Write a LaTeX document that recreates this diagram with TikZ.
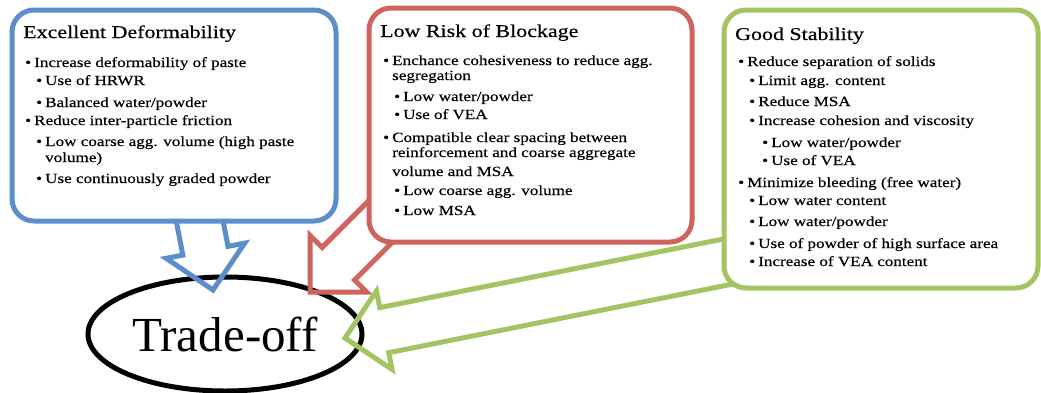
\documentclass[tikz,border=0pt]{standalone}
\usepackage{fontspec}
\setmainfont{Liberation Serif}
\newfontfamily\bodyfont[FakeStretch=1.22,FakeBold=0.4]{Liberation Serif}
\usetikzlibrary{calc,shapes.geometric}
\definecolor{cblue}{RGB}{92,143,202}
\definecolor{cred}{RGB}{207,100,94}
\definecolor{cgreen}{RGB}{163,196,96}
\tikzset{
  panel/.style={draw=#1, line width=5pt, fill=white, rounded corners=22pt, inner sep=0pt},
  txt/.style={anchor=base west, inner sep=0pt, font=\bodyfont\fontsize{14}{16}\selectfont},
  ttl/.style={anchor=base west, inner sep=0pt, font=\bodyfont\fontsize{18}{21}\selectfont},
  bul/.style={anchor=base west, inner sep=0pt, font=\bodyfont\fontsize{14}{16}\selectfont},
  fat/.style={draw=#1, line width=5pt, line join=miter, miter limit=10},
  oval/.style={draw, line width=5pt, fill=white, ellipse, inner sep=0pt, minimum width=274pt, minimum height=114pt, font=\fontsize{49}{55}\selectfont},
}
\newcommand{\fatarrow}[4]{%
  \coordinate (#1-n) at ($(#4)!40pt!(#3)$);
  \draw[fat=#2] ($(#3)!23pt!90:(#4)$) -- ($(#1-n)!23pt!90:(#4)$) -- ($(#1-n)!40pt!90:(#4)$) -- (#4)
    -- ($(#1-n)!40pt!-90:(#4)$) -- ($(#1-n)!23pt!-90:(#4)$) -- ($(#3)!23pt!-90:(#4)$);
}
\newcommand{\itm}[5]{\node[bul] (#1b) at (#2,#4) {\textbullet}; \node[txt] (#1) at (#3,#4) {#5};}
\begin{document}
\begin{tikzpicture}[x=1pt,y=-1pt]
\useasboundingbox (0,0) rectangle (1041,392);
% central ellipse
\node[oval] (trade) at (225,334) {Trade-off};
% arrows
\coordinate (bs) at (196,202);
\coordinate (bt) at (213,290);
\coordinate (rs) at (401.9,200.1);
\coordinate (rt) at (310,292);
\coordinate (gs) at (776.6,251.8);
\coordinate (gt) at (345,338);
\fatarrow{ba}{cblue}{bs}{bt}
\fatarrow{ra}{cred}{rs}{rt}
\fatarrow{ga}{cgreen}{gs}{gt}
% panels
\node[panel=cblue, minimum width=324pt, minimum height=211pt] (blue) at (174,115.5) {};
\node[panel=cred, minimum width=323pt, minimum height=234pt] (red) at (530.5,125) {};
\node[panel=cgreen, minimum width=314pt, minimum height=278pt] (green) at (881,149) {};
% blue text
\node[ttl] (bt0) at (23,38) {Excellent Deformability};
\itm{b1}{25}{34}{67}{Increase deformability of paste}
\itm{b2}{36}{45}{85}{Use of HRWR}
\itm{b3}{36}{45}{107}{Balanced water/powder}
\itm{b4}{25}{34}{125}{Reduce inter-particle friction}
\itm{b5}{36}{45}{146}{Low coarse agg. volume (high paste}
\node[txt] (b5c) at (45,162) {volume)};
\itm{b6}{36}{45}{183}{Use continuously graded powder}
% red text
\node[ttl] (rt0) at (380,37) {Low Risk of Blockage};
\itm{r1}{383}{392}{65}{Enchance cohesiveness to reduce agg.}
\node[txt] (r1c) at (392,80) {segregation};
\itm{r2}{394}{403}{101}{Low water/powder}
\itm{r3}{394}{403}{119}{Use of VEA}
\itm{r4}{383}{392}{142}{Compatible clear spacing between}
\node[txt] (r4c) at (392,157) {reinforcement and coarse aggregate};
\node[txt] (r4d) at (392,176) {volume and MSA};
\itm{r5}{394}{403}{195}{Low coarse agg. volume}
\itm{r6}{394}{403}{215}{Low MSA}
% green text
\node[ttl] (gt0) at (735,40) {Good Stability};
\itm{g1}{738}{747}{66}{Reduce separation of solids}
\itm{g2}{749}{758}{85}{Limit agg. content}
\itm{g3}{749}{758}{106}{Reduce MSA}
\itm{g4}{749}{758}{125}{Increase cohesion and viscosity}
\itm{g5}{762}{771}{147}{Low water/powder}
\itm{g6}{762}{771}{165}{Use of VEA}
\itm{g7}{738}{747}{187}{Minimize bleeding (free water)}
\itm{g8}{749}{758}{205}{Low water content}
\itm{g9}{749}{758}{226}{Low water/powder}
\itm{g10}{749}{758}{248}{Use of powder of high surface area}
\itm{g11}{749}{758}{266}{Increase of VEA content}
\end{tikzpicture}
\end{document}
